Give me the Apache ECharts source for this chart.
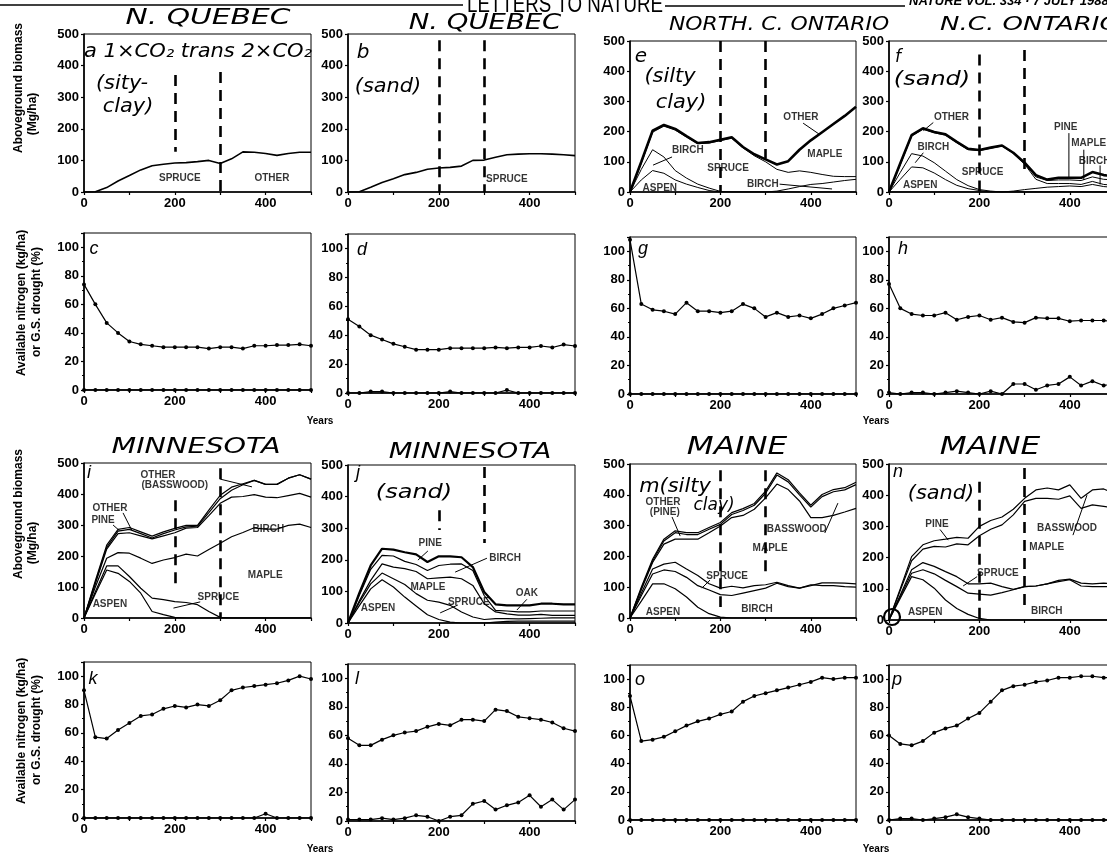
<!DOCTYPE html>
<html>
<head>
<meta charset="utf-8">
<script src="https://cdn.jsdelivr.net/npm/echarts@6/dist/echarts.min.js"></script>
<style>
  html, body { margin: 0; padding: 0; background: #fff; }
  #chart { width: 1107px; height: 857px; }
</style>
</head>
<body>
<div id="chart"></div>
<script>
// simulation years, 25-yr steps
var years = [0,25,50,75,100,125,150,175,200,225,250,275,300,325,350,375,400,425,450,475,500];

// aboveground biomass (Mg/ha), cumulative lines as drawn
var aTotal = [0,1,14,35,52,70,83,88,92,93,96,100,90,105,127,126,122,116,122,126,126];
var bTotal = [0,1,15,30,42,55,62,72,76,78,82,100,101,110,118,120,121,121,120,118,115];

var eTotal = [0,100,203,222,209,185,162,165,173,181,149,125,108,91,102,140,171,198,225,252,282];
var eMaple = [0,95,198,218,205,182,160,162,170,178,146,120,100,75,65,70,65,58,52,51,51];
var eBirch = [0,75,140,116,71,46,26,13,2,0,0,0,0,3,10,18,25,28,33,38,42];
var eAspen = [0,40,71,62,40,26,15,5,0,0,0,0,0,0,0,0,0,0,0,0,0];

var fTotal = [0,95,188,211,199,191,166,143,139,147,154,130,97,56,41,47,47,47,66,56,52];
var fPine  = [0,95,188,211,199,191,166,143,139,147,154,130,95,50,38,40,40,38,50,42,40];
var fMaple = [0,90,185,208,196,188,163,140,137,145,152,128,92,42,28,28,28,25,35,25,22];
var fLow   = [0,0,0,0,0,0,0,0,0,0,0,3,8,12,16,18,20,18,25,18,15];
var fBirch = [0,65,127,119,97,69,41,21,8,3,0,0,0,0,0,0,0,0,0,0,0];
var fAspen = [0,42,83,80,63,41,22,11,5,0,0,0,0,0,0,0,0,0,0,0,0];

var iOther = [0,120,235,286,292,278,264,278,289,299,299,348,396,422,433,444,431,431,451,462,448];
var iPine  = [0,115,228,280,286,272,258,272,284,294,296,340,385,412,430,444,431,431,451,462,448];
var iBirch = [0,110,222,272,275,265,255,265,275,290,292,330,370,390,392,398,390,388,395,402,390];
var iMaple = [0,100,193,211,209,193,176,187,195,206,200,221,241,262,276,291,287,287,299,303,292];
var iSpruce= [0,85,168,168,134,96,64,59,53,50,43,21,2,0,0,0,0,0,0,0,0];
var iAspen = [0,78,155,144,118,80,21,11,2,0,0,0,0,0,0,0,0,0,0,0,0];

var jPine  = [0,95,182,235,232,224,217,193,211,211,208,177,98,59,56,56,56,61,61,59,59];
var jBirch = [0,88,170,214,212,195,185,166,182,186,187,166,87,40,38,35,35,38,38,38,38];
var jMaple = [0,70,135,187,177,172,163,140,143,145,140,119,61,35,29,25,25,27,24,24,24];
var jSpruce= [0,65,124,158,140,122,93,72,66,56,35,19,11,14,14,13,14,15,16,16,16];
var jAspen = [0,55,108,137,114,82,54,26,11,3,0,0,0,3,5,6,6,6,6,6,6];

var mOther = [0,100,191,256,283,277,277,294,310,342,355,372,412,471,449,406,366,401,417,423,441];
var mPine  = [0,95,185,250,277,271,271,288,304,336,349,366,405,464,442,400,360,394,410,416,433];
var mBass  = [0,92,180,240,256,256,256,277,299,326,333,353,390,435,417,380,326,326,333,344,356];
var mSpruce= [0,80,159,175,181,159,138,111,97,103,98,105,108,116,105,97,105,114,114,113,111];
var mBirch = [0,72,143,156,151,132,105,91,76,73,81,89,97,113,102,97,108,105,105,102,100];
var mAspen = [0,55,111,111,95,68,35,14,3,0,0,0,0,0,0,0,0,0,0,0,0];

var nPine  = [0,100,203,241,254,259,265,262,300,319,330,355,390,417,423,417,433,390,417,420,404];
var nBass  = [0,95,190,227,236,234,244,241,270,291,305,337,380,390,390,387,398,358,369,364,358];
var nSpruce= [0,80,161,184,172,155,139,116,116,118,107,98,107,109,116,127,131,118,116,118,116];
var nBirch = [0,75,150,161,148,127,107,86,83,80,88,97,107,109,116,123,129,109,107,107,107];
var nAspen = [0,70,139,129,102,64,37,18,5,0,0,0,0,0,0,0,0,0,0,0,0];

// available nitrogen (kg/ha) and growing-season drought (%)
var cN = [74,60,47,40,34,32,31,30,30,30,30,29,30,30,29,31,31,31.5,31.5,32,31];
var cD = [0,0,0,0,0,0,0,0,0,0,0,0,0,0,0,0,0,0,0,0,0];
var dN = [51,46,40,37,34,32,30,30,30,31,31,31,31,31.5,31,31.5,31.5,32.5,31.5,33.5,32.5];
var dD = [0,0,1,1,0,0,0,0,0,1,0,0,0,0,2,0,0,0,0,0,0];
var gN = [108,63,59,58,56,64,58,58,57,58,63,60,54,57,54,55,53,56,60,62,64];
var gD = [0,0,0,0,0,0,0,0,0,0,0,0,0,0,0,0,0,0,0,0,0];
var hN = [77,60,56,55,55,57,52,54,55,52,53.5,50.5,50,53.5,53,53,51,51.5,51.5,51.5,50.5];
var hD = [1,0,1,1,0,1,2,1,0,2,0,7,7,3,6,7,12,6,9,6,7];
var kN = [90,57,56,62,67,72,73,77,79,78,80,79,83,90,92,93,94,95,97,100,98];
var kD = [0,0,0,0,0,0,0,0,0,0,0,0,0,0,0,0,3,0,0,0,0];
var lN = [58,53,53,57,60,62,63,66,68,67,71,71,70,78,77,73,72,71,69,65,63];
var lD = [1,1,1,2,1,2,4,3,0,3,4,12,14,8,11,13,18,10,15,8,15];
var oN = [88,56,57,59,63,67,70,72,75,77,84,88,90,92,94,96,98,101,100,101,101];
var oD = [0,0,0,0,0,0,0,0,0,0,0,0,0,0,0,0,0,0,0,0,0];
var pN = [60,54,53,56,62,65,67,72,76,84,92,95,96,98,99,101,101,102,102,101,101];
var pD = [0,1,1,0,1,2,4,2,1,0,0,0,0,0,0,0,0,0,0,0,0];

var xTicks = [0,200,400];

// panel layout
var colLeft = [84, 348, 630, 889];
var colWidth = [227, 227, 226, 226];
var rowBox = [
  [[34,158],[34,158],[41,151],[41,151]],
  [[233,157],[234,159],[237,157],[237,157]],
  [[463,155],[465,158],[464,154],[464,156]],
  [[662,156],[664,157],[665,155],[665,155]]
];

var panels = [
  {col:0,row:0,kind:'bio', lines:[[aTotal,1.6]], dashes:[[200,370,127],[300,380,0]],
   labels:[[211,44,'SPRUCE'],[414,44,'OTHER']], leaders:[]},
  {col:1,row:0,kind:'bio', lines:[[bTotal,1.6]], dashes:[[200,480,0],[300,480,0]],
   labels:[[350,41,'SPRUCE']], leaders:[]},
  {col:2,row:0,kind:'bio', lines:[[eTotal,2.6],[eMaple,1],[eBirch,1],[eAspen,1]], dashes:[[200,500,0],[300,500,110]],
   labels:[[378,248,'OTHER'],[128,139,'BIRCH'],[431,126,'MAPLE'],[217,79,'SPRUCE'],[66,13,'ASPEN'],[294,26,'BIRCH']],
   leaders:[[[383,228],[420,190]],[[93,116],[51,89]],[[331,26],[447,10]]]},
  {col:3,row:0,kind:'bio', lines:[[fTotal,2.6],[fPine,1],[fMaple,1],[fLow,1],[fBirch,1],[fAspen,1]], dashes:[[200,455,0],[300,470,60]],
   labels:[[138,247,'OTHER'],[98,147,'BIRCH'],[207,67,'SPRUCE'],[69,23,'ASPEN'],[391,213,'PINE'],[442,160,'MAPLE'],[455,103,'BIRCH']],
   leaders:[[[98,230],[76,203]],[[76,130],[58,97]],[[398,195],[398,47]],[[431,140],[431,40]],[[467,88],[467,25]]]},
  {col:0,row:1,kind:'n', lines:[cN,cD]},
  {col:1,row:1,kind:'n', lines:[dN,dD]},
  {col:2,row:1,kind:'n', lines:[gN,gD]},
  {col:3,row:1,kind:'n', lines:[hN,hD]},
  {col:0,row:2,kind:'bio', lines:[[iOther,1.2],[iPine,1.2],[iBirch,1.2],[iMaple,1.2],[iSpruce,1.2],[iAspen,1.2]], dashes:[[200,380,100],[300,483,0]],
   labels:[[163,461,'OTHER'],[200,429,'(BASSWOOD)'],[57,355,'OTHER'],[42,316,'PINE'],[406,287,'BIRCH'],[399,139,'MAPLE'],[296,68,'SPRUCE'],[57,45,'ASPEN']],
   leaders:[[[300,448],[370,423]],[[86,339],[105,284]],[[64,300],[78,282]],[[256,52],[197,32]]]},
  {col:1,row:2,kind:'bio', lines:[[jPine,2.2],[jBirch,1.2],[jMaple,1.2],[jSpruce,1.2],[jAspen,1.2]], dashes:[[200,357,294],[300,494,253]],
   labels:[[181,253,'PINE'],[346,206,'BIRCH'],[176,114,'MAPLE'],[266,66,'SPRUCE'],[394,95,'OAK'],[66,47,'ASPEN']],
   leaders:[[[176,228],[154,199]],[[306,205],[236,161]],[[242,57],[203,32]],[[394,75],[372,41]]]},
  {col:2,row:2,kind:'bio', lines:[[mOther,1.2],[mPine,1.2],[mBass,1.2],[mSpruce,1.2],[mBirch,1.2],[mAspen,1.2]], dashes:[[200,480,36],[300,480,130]],
   labels:[[73,377,'OTHER'],[77,344,'(PINE)'],[369,289,'BASSWOOD'],[310,227,'MAPLE'],[215,136,'SPRUCE'],[281,29,'BIRCH'],[73,20,'ASPEN']],
   leaders:[[[93,328],[111,266]],[[431,276],[460,373]],[[177,123],[159,97]]]},
  {col:3,row:2,kind:'bio', lines:[[nPine,1.2],[nBass,1.2],[nSpruce,1.2],[nBirch,1.2],[nAspen,1.2]], dashes:[[200,443,0],[300,487,26]],
   labels:[[106,308,'PINE'],[394,295,'BASSWOOD'],[349,234,'MAPLE'],[241,150,'SPRUCE'],[349,29,'BIRCH'],[80,26,'ASPEN']],
   leaders:[[[113,290],[131,256]],[[407,272],[438,400]],[[195,139],[164,109]]]},
  {col:0,row:3,kind:'n', lines:[kN,kD]},
  {col:1,row:3,kind:'n', lines:[lN,lD]},
  {col:2,row:3,kind:'n', lines:[oN,oD]},
  {col:3,row:3,kind:'n', lines:[pN,pD]}
];

var FONT = 'Liberation Sans';
var HAND = 'DejaVu Sans';
function pairs(v) { return years.map(function(x, i) { return [x, v[i]]; }); }

var grids = [], xAxes = [], yAxes = [], series = [];
panels.forEach(function(p, i) {
  var box = rowBox[p.row][p.col];
  var bio = p.kind === 'bio';
  grids.push({left: colLeft[p.col], top: box[0], width: colWidth[p.col], height: box[1],
    show: true, borderColor: '#000', borderWidth: 1, backgroundColor: 'transparent',
    containLabel: false, outerBoundsMode: 'none'});
  xAxes.push({gridIndex: i, type: 'value', min: 0, max: 500, interval: 100,
    axisLine: {lineStyle: {color: '#000', width: 1.6}},
    axisTick: {length: 3, lineStyle: {color: '#000', width: 1.2}},
    axisLabel: {color: '#000', fontFamily: FONT, fontWeight: 'bold', fontSize: 13, margin: 5,
      formatter: function(v) { return xTicks.indexOf(v) >= 0 ? String(v) : ''; }},
    splitLine: {show: false}});
  yAxes.push({gridIndex: i, type: 'value', min: 0, max: bio ? 500 : 110, interval: bio ? 100 : 20,
    axisLine: {show: true, lineStyle: {color: '#000', width: 1.6}},
    axisTick: {show: true, length: 3, lineStyle: {color: '#000', width: 1.2}},
    minorTick: {show: !bio, splitNumber: 2, length: 2, lineStyle: {color: '#000'}},
    axisLabel: {color: '#000', fontFamily: FONT, fontWeight: 'bold', fontSize: 13, margin: 5,
      formatter: function(v) { return v > (bio ? 500 : 100) ? '' : String(v); }},
    splitLine: {show: false}});

  if (bio) {
    p.lines.forEach(function(l, k) {
      var s = {type: 'line', xAxisIndex: i, yAxisIndex: i, data: pairs(l[0]), showSymbol: false,
        silent: true, animation: false, lineStyle: {color: '#000', width: l[1]}};
      if (k === 0) {
        s.markLine = {symbol: ['none', 'none'], silent: true, animation: false, label: {show: false},
          lineStyle: {type: [11, 7], width: 2.6, color: '#000'},
          data: p.dashes.map(function(d) { return [{coord: [d[0], d[1]]}, {coord: [d[0], d[2]]}]; })};
      }
      series.push(s);
    });
    p.leaders.forEach(function(ld) {
      series.push({type: 'line', xAxisIndex: i, yAxisIndex: i, data: ld, showSymbol: false, silent: true,
        animation: false, lineStyle: {color: '#000', width: 1}});
    });
    series.push({type: 'scatter', xAxisIndex: i, yAxisIndex: i, symbolSize: 1, silent: true, animation: false,
      itemStyle: {color: 'rgba(0,0,0,0)'},
      label: {show: true, position: 'inside', formatter: '{b}', color: '#000', fontFamily: FONT,
        fontWeight: 'bold', fontSize: 10},
      data: p.labels.map(function(t) { return {value: [t[0], t[1]], name: t[2]}; })});
  } else {
    p.lines.forEach(function(l) {
      series.push({type: 'line', xAxisIndex: i, yAxisIndex: i, data: pairs(l), showSymbol: true,
        symbol: 'circle', symbolSize: 4, silent: true, animation: false,
        itemStyle: {color: '#000'}, lineStyle: {color: '#000', width: 1.2}});
    });
  }
});

// text helpers
function hand(text, x, y, size, sx) {
  return {type: 'text', x: x, y: y, scaleX: sx || 1, silent: true,
    style: {text: text, align: 'center', verticalAlign: 'middle', fill: '#000',
      font: 'italic ' + size + 'px "' + HAND + '"'}};
}
function letter(text, x, y) {
  return {type: 'text', x: x, y: y, silent: true,
    style: {text: text, align: 'center', verticalAlign: 'middle', fill: '#000',
      font: 'italic 18px "' + FONT + '"'}};
}
function bold(text, x, y, size, rot) {
  return {type: 'text', x: x, y: y, rotation: rot || 0, silent: true,
    style: {text: text, align: 'center', verticalAlign: 'middle', fill: '#000',
      font: 'bold ' + size + 'px "' + FONT + '"'}};
}

var graphics = [
  // journal header
  {type: 'line', silent: true, shape: {x1: 0, y1: 5, x2: 463, y2: 5}, style: {stroke: '#000', lineWidth: 1.5}},
  {type: 'line', silent: true, shape: {x1: 665, y1: 6, x2: 905, y2: 6}, style: {stroke: '#000', lineWidth: 1.5}},
  {type: 'text', x: 565, y: 5, scaleX: 0.78, silent: true,
    style: {text: 'LETTERS TO NATURE', align: 'center', verticalAlign: 'middle', fill: '#000',
      font: '24px "Liberation Sans"'}},
  {type: 'text', x: 909, y: 1, silent: true,
    style: {text: 'NATURE VOL. 334 · 7 JULY 1988', align: 'left', verticalAlign: 'middle', fill: '#000',
      font: 'italic bold 13px "Liberation Sans"'}},

  // handwritten site titles
  hand('N. QUEBEC', 208, 18, 22, 1.35),
  hand('N. QUEBEC', 485, 23, 22, 1.25),
  hand('NORTH. C. ONTARIO', 779, 25, 19, 1.15),
  hand('N.C. ONTARIO', 1030, 25, 20, 1.3),
  hand('MINNESOTA', 196, 447, 22, 1.3),
  hand('MINNESOTA', 470, 452, 22, 1.25),
  hand('MAINE', 737, 448, 24, 1.3),
  hand('MAINE', 990, 448, 24, 1.3),

  // handwritten panel notes
  hand('a 1×CO₂ trans 2×CO₂', 198, 52, 20, 1.05),
  hand('(sity-', 122, 84, 19, 1.1),
  hand('clay)', 128, 107, 19, 1.1),
  hand('b', 363, 53, 20, 1),
  hand('(sand)', 388, 87, 19, 1.1),
  hand('e', 641, 57, 20, 1),
  hand('(silty', 670, 77, 19, 1.1),
  hand('clay)', 681, 103, 19, 1.1),
  hand('f', 898, 58, 17, 1),
  hand('(sand)', 932, 80, 20, 1.2),
  hand('(sand)', 414, 493, 20, 1.2),
  hand('m(silty', 675, 487, 19, 1.1),
  hand('clay)', 714, 506, 17, 1),
  hand('(sand)', 941, 494, 19, 1.1),
  {type: 'circle', silent: true, shape: {cx: 892, cy: 617, r: 8}, style: {stroke: '#000', lineWidth: 2.2, fill: 'none'}},

  // printed panel letters
  letter('c', 94, 249), letter('d', 362, 250), letter('g', 643, 249), letter('h', 903, 249),
  letter('i', 89, 473), letter('j', 358, 473), letter('n', 898, 472),
  letter('k', 93, 679), letter('l', 357, 679), letter('o', 640, 680), letter('p', 897, 680),

  // y-axis names (left column only)
  bold('Aboveground biomass', 19, 88, 12, Math.PI / 2),
  bold('(Mg/ha)', 33, 114, 12, Math.PI / 2),
  bold('Available nitrogen (kg/ha)', 22, 303, 12, Math.PI / 2),
  bold('or G.S. drought (%)', 37, 302, 12, Math.PI / 2),
  bold('Aboveground biomass', 19, 514, 12, Math.PI / 2),
  bold('(Mg/ha)', 33, 543, 12, Math.PI / 2),
  bold('Available nitrogen (kg/ha)', 22, 731, 12, Math.PI / 2),
  bold('or G.S. drought (%)', 37, 730, 12, Math.PI / 2),

  // x-axis names
  bold('Years', 320, 421, 10, 0),
  bold('Years', 876, 421, 10, 0),
  bold('Years', 320, 849, 10, 0),
  bold('Years', 876, 849, 10, 0)
];

var chart = echarts.init(document.getElementById('chart'));
chart.setOption({
  backgroundColor: '#fff',
  animation: false,
  grid: grids,
  xAxis: xAxes,
  yAxis: yAxes,
  series: series,
  graphic: graphics
});
</script>
</body>
</html>
